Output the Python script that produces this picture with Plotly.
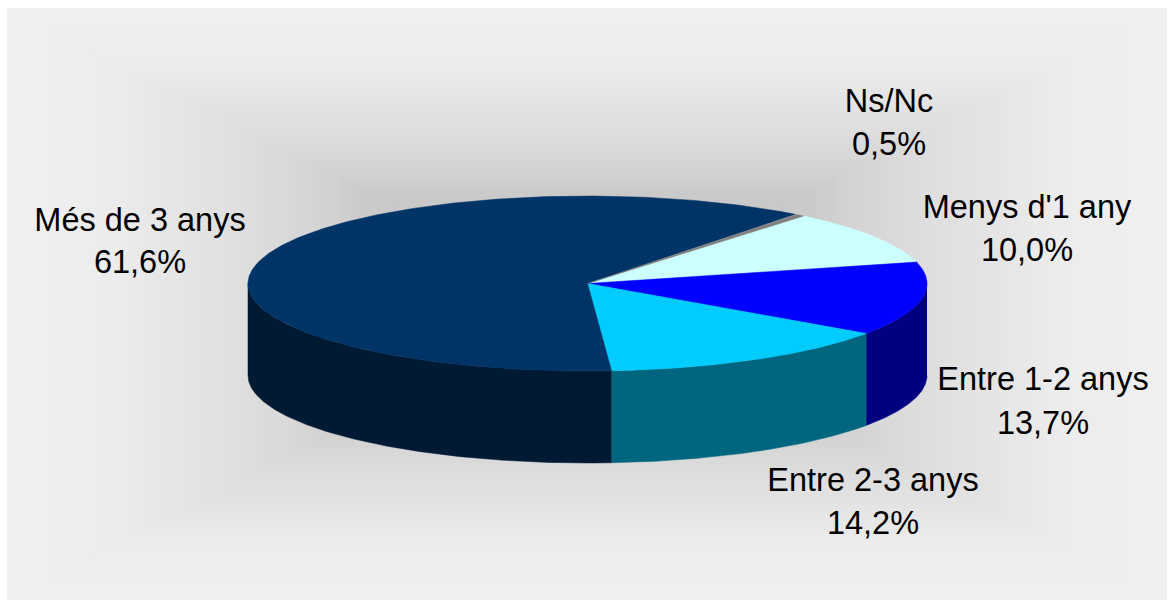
import numpy as np
import plotly.graph_objects as go

# ---- data (clockwise from the start angle) ----
categories = ["Menys d'1 any", "Entre 1-2 anys", "Entre 2-3 anys", "Més de 3 anys", "Ns/Nc"]
values = [10.0, 13.7, 14.2, 61.6, 0.5]
top_colors = ["#CCFFFF", "#0000FF", "#00CCFF", "#003366", "#808080"]
side_colors = ["#666680", "#000080", "#006680", "#001A33", "#404040"]
label_x = [1027, 1043, 873, 140, 889]
name_y = [210, 382, 483, 223, 104]
pct_y = [253, 426, 526, 265, 147]

# ---- pie geometry in page pixels ----
START_DEG = 39.5
CX, CY, RX, RY, DEPTH = 587.5, 283.5, 339.5, 87.5, 92
W, H = 1173, 601

# ---- panel with rectangular shadow gradient ----
PANEL = (7, 8, 1167, 600)
GX, GY = 587, 304
stops_t = [0.0, 0.385, 0.45, 0.59, 0.69, 0.82, 1.0]
stops_v = [196, 202, 210, 222, 228, 236, 240]
shapes = []
for t in np.linspace(1, 0.02, 90):
    hw = (PANEL[2] - PANEL[0]) / 2 * t
    hh = (PANEL[3] - PANEL[1]) / 2 * t
    g = int(round(np.interp(t, stops_t, stops_v)))
    shapes.append(dict(type="rect", layer="below", xref="x", yref="y",
                       x0=GX - hw, x1=GX + hw, y0=GY - hh, y1=GY + hh,
                       line=dict(width=0), fillcolor=f"rgb({g},{g},{g})"))

def px(a):
    return CX + RX * np.sin(np.radians(a))

def py(a):
    return CY - RY * np.cos(np.radians(a))

fig = go.Figure()
total = sum(values)
edges = START_DEG + np.cumsum([0] + values) / total * 360

# side walls (only the front half of the rim, 90..270 degrees, can be seen)
for i, col in enumerate(side_colors):
    for turn in (0, 360):
        a0 = max(edges[i] - turn, 90)
        a1 = min(edges[i + 1] - turn, 270)
        if a1 <= a0:
            continue
        arc = np.linspace(a0, a1, 200)
        xs = np.concatenate([px(arc), px(arc[::-1])])
        ys = np.concatenate([py(arc), py(arc[::-1]) + DEPTH])
        fig.add_trace(go.Scatter(x=xs, y=ys, mode="lines", fill="toself", fillcolor=col,
                                 line=dict(width=0.5, color=col), hoverinfo="skip"))

# top face
for i, col in enumerate(top_colors):
    arc = np.linspace(edges[i], edges[i + 1], 300)
    xs = np.concatenate([[CX], px(arc), [CX]])
    ys = np.concatenate([[CY], py(arc), [CY]])
    fig.add_trace(go.Scatter(x=xs, y=ys, mode="lines", fill="toself", fillcolor=col,
                             line=dict(width=0.5, color=col), hoverinfo="skip"))

# labels
pct_text = [f"{v:.1f}%".replace(".", ",") for v in values]
font = dict(family="Liberation Sans, Arial, sans-serif", size=32.5, color="#000000")
fig.add_trace(go.Scatter(x=label_x, y=name_y, mode="text", text=categories,
                         textposition="middle center", textfont=font, hoverinfo="skip"))
fig.add_trace(go.Scatter(x=label_x, y=pct_y, mode="text", text=pct_text,
                         textposition="middle center", textfont=font, hoverinfo="skip"))

fig.update_layout(
    width=W, height=H, margin=dict(l=0, r=0, t=0, b=0), showlegend=False,
    paper_bgcolor="#FFFFFF", plot_bgcolor="#FFFFFF", shapes=shapes,
    xaxis=dict(range=[0, W], visible=False, fixedrange=True),
    yaxis=dict(range=[H, 0], visible=False, fixedrange=True),
)
fig.write_html("out.html", config={"displayModeBar": False},
               post_script="document.body.style.margin='0';document.body.style.overflow='hidden';")
